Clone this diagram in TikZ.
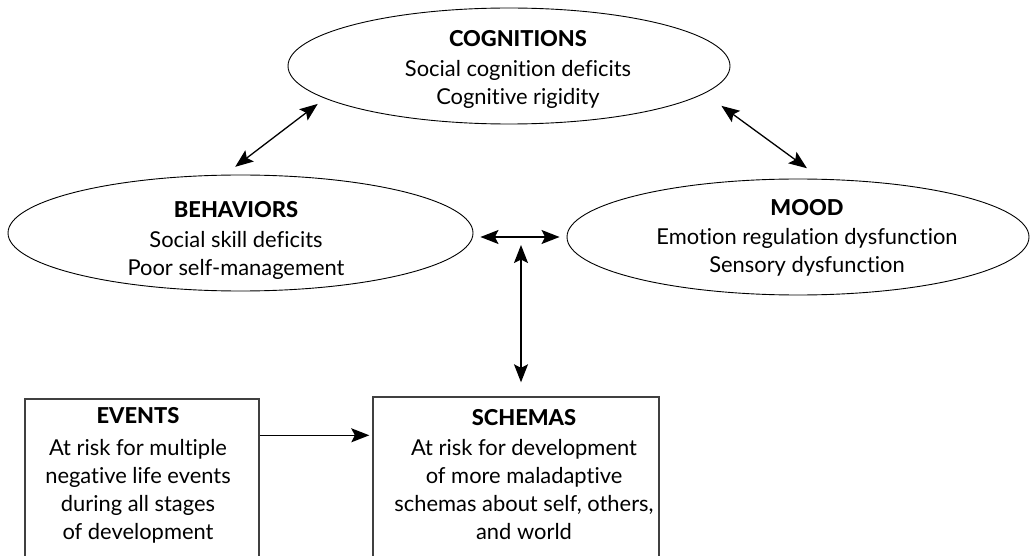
\documentclass[tikz,border=0pt]{standalone}
\usepackage{fontspec}
\setmainfont{Lato}[BoldFont={Lato Heavy}, Ligatures={NoCommon}]
\usetikzlibrary{shapes.geometric,arrows.meta}
\begin{document}
\begin{tikzpicture}[x=1pt,y=-1pt,
  txt/.style={font=\fontsize{21.9}{28}\selectfont, inner sep=0pt, anchor=base},
  oval/.style={ellipse, draw, line width=0.9pt, inner sep=0pt},
  panel/.style={rectangle, draw=black!75, line width=1.4pt, inner sep=0pt},
  link/.style={line width=1.3pt, {Stealth[length=18pt,width=14pt,inset=3.5pt]}-{Stealth[length=18pt,width=14pt,inset=3.5pt]}},
  feed/.style={line width=1.3pt, -{Stealth[length=18pt,width=14pt,inset=3.5pt]}}
]
\useasboundingbox (0,0) rectangle (1031,556);

% the three ovals
\node[oval, minimum width=442pt, minimum height=116pt] (cog) at (509,66) {};
\node[oval, minimum width=465pt, minimum height=116pt] (beh) at (240.5,233) {};
\node[oval, minimum width=462pt, minimum height=116pt] (mood) at (798,237) {};

% the two boxes (their lower edges run off the page)
\node[panel, minimum width=234pt, minimum height=158pt] (ev) at (142,478) {};
\node[panel, minimum width=286pt, minimum height=160pt] (sch) at (516,477) {};

% texts
\node[txt] (cogtxt) at (518,47) {\begin{tabular}[t]{@{}c@{}}\bfseries COGNITIONS\\[2pt]
  Social cognition deficits\\ Cognitive rigidity\end{tabular}};
\node[txt] (behtxt) at (236,218) {\begin{tabular}[t]{@{}c@{}}\bfseries BEHAVIORS\\[2pt]
  Social skill deficits\\ Poor self-management\end{tabular}};
\node[txt] (moodtxt) at (807,216) {\begin{tabular}[t]{@{}c@{}}\bfseries MOOD\\[1pt]
  Emotion regulation dysfunction\\ Sensory dysfunction\end{tabular}};
\node[txt] (evtxt) at (138,423) {\begin{tabular}[t]{@{}c@{}}\bfseries EVENTS\\[4pt]
  At risk for multiple\\ negative life events\\ during all stages\\ of development\end{tabular}};
\node[txt] (schtxt) at (524,425) {\begin{tabular}[t]{@{}c@{}}\bfseries SCHEMAS\\[2pt]
  At risk for development\\ of more maladaptive\\ schemas about self, others,\\ and world\end{tabular}};

% connectors
\draw[link, shorten <=9pt, shorten >=13pt] (cog.190) -- (beh.105);
\draw[link, shorten <=21pt, shorten >=18pt] (cog.352) -- (mood.68);
\draw[link, shorten <=7pt, shorten >=7pt] (beh.east |- mood.west) -- (mood.west);
\coordinate (hub) at (521,236);
\draw[link, shorten <=9pt, shorten >=14pt] (hub) -- (hub |- sch.north);
\draw[feed, shorten >=3pt] ([yshift=-37pt]ev.north east) -- ([yshift=-37pt]ev.north east -| sch.west);
\end{tikzpicture}
\end{document}
